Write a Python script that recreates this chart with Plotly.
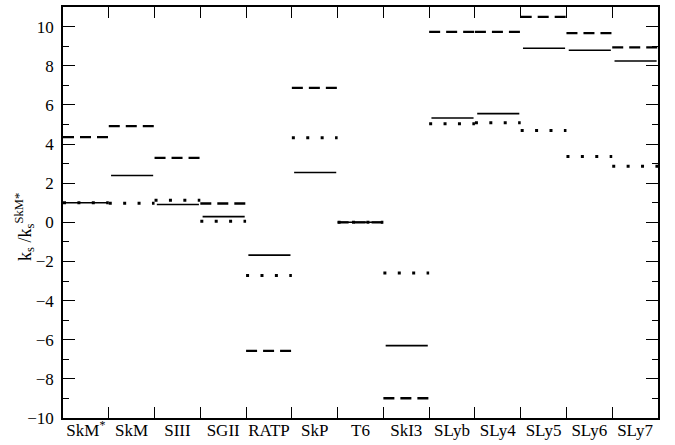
import plotly.graph_objects as go

models = ["SkM*", "SkM", "SIII", "SGII", "RATP", "SkP", "T6", "SkI3",
          "SLyb", "SLy4", "SLy5", "SLy6", "SLy7"]
tick_labels = ["SkM<sup>*</sup>", "SkM", "SIII", "SGII", "RATP", "SkP", "T6", "SkI3",
               "SLyb", "SLy4", "SLy5", "SLy6", "SLy7"]
solid = [1.0, 2.39, 0.91, 0.29, -1.68, 2.54, 0.0, -6.30, 5.33, 5.55, 8.89, 8.79, 8.24]
dashed = [4.35, 4.91, 3.29, 0.96, -6.57, 6.87, 0.0, -8.99, 9.73, 9.73, 10.50, 9.67, 8.94]
dotted = [1.0, 0.97, 1.12, 0.05, -2.72, 4.32, 0.0, -2.59, 5.04, 5.08, 4.69, 3.36, 2.86]

fig = go.Figure()

styles = [
    (dashed, dict(color="black", width=2.3, dash="11px,6px"), 0.0, 1.0),
    (solid, dict(color="black", width=1.6), 0.05, 0.97),
    (dotted, dict(color="black", width=3, dash="3px,11.4px"), 0.0, 1.0),
]
for values, line, a, b in styles:
    for i, v in enumerate(values):
        fig.add_trace(go.Scatter(x=[i + a, i + b], y=[v, v], mode="lines",
                                 line=line, showlegend=False, hoverinfo="skip"))

n = len(models)
SERIF = "Liberation Serif, Times New Roman, serif"
fig.update_layout(
    width=675, height=445,
    margin=dict(l=63, r=17, t=5, b=23),
    paper_bgcolor="white", plot_bgcolor="white",
    font=dict(family=SERIF, size=17, color="black"),
    xaxis=dict(range=[0, n], tickmode="array", tickvals=list(range(1, n)),
               ticks="inside", ticklen=11, tickwidth=1.2, tickcolor="black",
               showticklabels=False, showgrid=False, zeroline=False,
               showline=True, linewidth=1.5, linecolor="black", mirror="ticks"),
    xaxis2=dict(range=[0, n], overlaying="x", side="bottom", anchor="y",
                tickmode="array", tickvals=[i + 0.5 for i in range(n)],
                ticktext=tick_labels, ticks="", showgrid=False, zeroline=False,
                showline=False, ticklabelstandoff=0,
                tickfont=dict(family=SERIF, size=17, color="black")),
    yaxis=dict(range=[-10, 11], tickmode="array", tickvals=list(range(-10, 11, 2)),
               ticks="inside", ticklen=12, tickwidth=1.2, tickcolor="black",
               minor=dict(tickmode="array", tickvals=list(range(-9, 11, 2)),
                          ticks="inside", ticklen=6, tickwidth=1.2, tickcolor="black"),
               showgrid=False, zeroline=False, showline=True, linewidth=1.5,
               linecolor="black", mirror="ticks", ticklabelstandoff=4,
               tickfont=dict(family=SERIF, size=17, color="black")),
)
fig.add_trace(go.Scatter(x=[None], y=[None], xaxis="x2", showlegend=False))
fig.add_annotation(text="k<sub>s</sub> /k<sub>s</sub><sup>SkM*</sup>",
                   xref="paper", yref="paper", x=0, y=0.465, xshift=-38,
                   xanchor="center", yanchor="middle", textangle=-90,
                   showarrow=False, font=dict(family=SERIF, size=18, color="black"))

fig.write_html("out.html")
